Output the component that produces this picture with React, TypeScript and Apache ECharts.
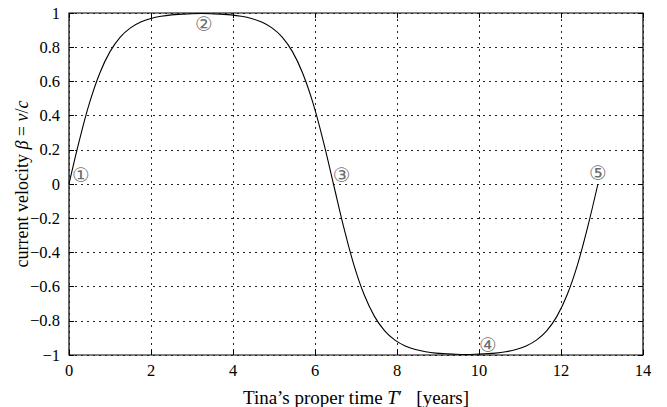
import React, { useEffect, useRef } from "react";
import * as echarts from "echarts";

const xTicks = [0, 2, 4, 6, 8, 10, 12, 14];
const properTime = [
  0, 0.25, 0.5, 0.75, 1.0, 1.25, 1.5, 1.75, 2.0, 2.25, 2.5, 2.75, 3.0, 3.225,
  3.45, 3.7, 3.95, 4.2, 4.45, 4.7, 4.95, 5.2, 5.45, 5.7, 5.95, 6.2, 6.45,
  6.7, 6.95, 7.2, 7.45, 7.7, 7.95, 8.2, 8.45, 8.7, 8.95, 9.2, 9.45, 9.675,
  9.9, 10.15, 10.4, 10.65, 10.9, 11.15, 11.4, 11.65, 11.9, 12.15, 12.4, 12.65, 12.9,
];
const velocity = [
  0, 0.252, 0.474, 0.648, 0.774, 0.859, 0.913, 0.947, 0.968, 0.981, 0.989, 0.993, 0.996, 0.997,
  0.996, 0.993, 0.989, 0.981, 0.968, 0.947, 0.913, 0.859, 0.774, 0.648, 0.474, 0.252, 0,
  -0.252, -0.474, -0.648, -0.774, -0.859, -0.913, -0.947, -0.968, -0.981, -0.989, -0.993, -0.996, -0.997,
  -0.996, -0.993, -0.989, -0.981, -0.968, -0.947, -0.913, -0.859, -0.774, -0.648, -0.474, -0.252, 0,
];
const markerText = ["①", "②", "③", "④", "⑤"];
const markerX = [0.29, 3.29, 6.65, 10.22, 12.9];
const markerY = [0.05, 0.936, 0.05, -0.944, 0.063];

const SERIF = "'Liberation Serif', 'DejaVu Serif', serif";

export default function App() {
  const ref = useRef<HTMLDivElement>(null);
  useEffect(() => {
    if (!ref.current) return;
    const chart = echarts.init(ref.current, undefined, { renderer: "svg" });
    const fmt = (v: number) => String(v).replace("-", "−");
    const gridLine = { show: true, lineStyle: { color: "#222", type: [2, 4] as any, width: 1 } };
    const tick = { show: true, inside: true, length: 5, lineStyle: { color: "#000" } };
    const noLine = { show: false, onZero: false };
    const rich = (s: number) => ({
      a: { fontFamily: SERIF, fontSize: s, color: "#000" },
      i: { fontFamily: SERIF, fontSize: s, color: "#000", fontStyle: "italic" },
    });
    chart.setOption({
      animation: false,
      backgroundColor: "#fff",
      grid: {
        left: 69, right: 24, top: 13, bottom: 52, show: true,
        borderColor: "#000", borderWidth: 1.2, backgroundColor: "transparent",
        containLabel: false, outerBoundsMode: "none",
      },
      xAxis: [
        {
          type: "value", min: 0, max: 14, interval: 2, position: "bottom",
          axisLine: noLine,
          axisTick: tick,
          axisLabel: { color: "#000", fontFamily: SERIF, fontSize: 16.5, margin: 7, formatter: fmt },
          splitLine: gridLine,
          name: "{a|Tina’s proper time }{i|T}{a|′   [years]}",
          nameLocation: "middle", nameGap: 33, nameMoveOverlap: false,
          nameTextStyle: { rich: rich(19) },
        },
        {
          type: "value", min: 0, max: 14, interval: 2, position: "top",
          axisLine: noLine,
          axisTick: tick,
          axisLabel: { show: false }, splitLine: { show: false },
        },
      ],
      yAxis: [
        {
          type: "value", min: -1, max: 1, interval: 0.2, position: "left",
          axisLine: noLine,
          axisTick: tick,
          axisLabel: { color: "#000", fontFamily: SERIF, fontSize: 16.5, margin: 9, formatter: (v: number) => fmt(Math.round(v * 10) / 10) },
          splitLine: gridLine,
          name: "{a|current velocity }{i|β}{a| = }{i|v}{a|/}{i|c}",
          nameLocation: "middle", nameGap: 38, nameRotate: 90, nameMoveOverlap: false,
          nameTextStyle: { rich: rich(18) },
        },
        {
          type: "value", min: -1, max: 1, interval: 0.2, position: "right",
          axisLine: noLine,
          axisTick: tick,
          axisLabel: { show: false }, splitLine: { show: false },
        },
      ],
      series: [
        {
          type: "line",
          data: properTime.map((t, i) => [t, velocity[i]]),
          showSymbol: false, symbol: "none",
          smooth: 0.4,
          lineStyle: { color: "#000", width: 1.1 },
          z: 3,
        },
        {
          type: "scatter",
          data: markerX.map((x, i) => ({ value: [x, markerY[i]], name: markerText[i] })),
          symbolSize: 0,
          label: {
            show: true, position: "inside", formatter: (p: any) => p.name,
            color: "#444", fontSize: 20, fontFamily: "'DejaVu Sans', sans-serif",
          },
          z: 4,
        },
      ],
    });
    return () => chart.dispose();
  }, []);
  return <div ref={ref} style={{ position: "fixed", left: 0, top: 0, width: 667, height: 407 }} />;
}
